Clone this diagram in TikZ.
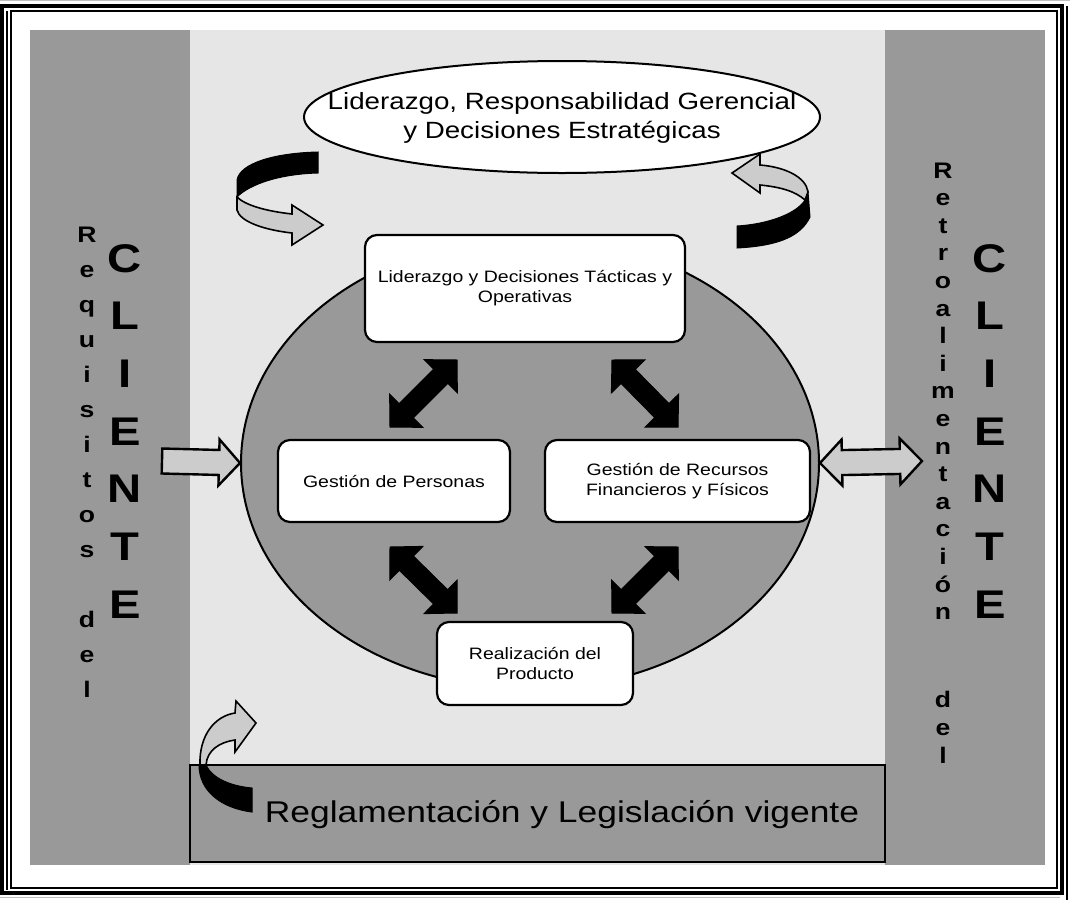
\documentclass[tikz,border=0pt]{standalone}
\usepackage{fontspec}
\setmainfont{Liberation Sans}[FakeStretch=1.18]
\usetikzlibrary{calc,shapes.geometric}
\definecolor{dgray}{HTML}{999999}
\definecolor{lgray}{HTML}{E6E6E6}
\definecolor{agray}{HTML}{CCCCCC}

% single block arrow: #1 style, #2 from, #3 to, #4 shaft half width, #5 head half width, #6 head length
\newcommand\sglarrow[6]{%
  \coordinate (sa-h) at ($(#3)!#6!(#2)$);
  \draw[#1] ($(#2)!#4!90:(#3)$) -- ($(sa-h)!#4!90:(#3)$) -- ($(sa-h)!#5!90:(#3)$) -- (#3)
    -- ($(sa-h)!#5!-90:(#3)$) -- ($(sa-h)!#4!-90:(#3)$) -- ($(#2)!#4!-90:(#3)$) -- cycle;
}
% double block arrow
\newcommand\dblarrow[6]{%
  \coordinate (da-a) at ($(#2)!#6!(#3)$);
  \coordinate (da-b) at ($(#3)!#6!(#2)$);
  \draw[#1] (#2) -- ($(da-a)!#5!90:(#3)$) -- ($(da-a)!#4!90:(#3)$) -- ($(da-b)!#4!90:(#3)$)
    -- ($(da-b)!#5!90:(#3)$) -- (#3) -- ($(da-b)!#5!-90:(#3)$) -- ($(da-b)!#4!-90:(#3)$)
    -- ($(da-a)!#4!-90:(#3)$) -- ($(da-a)!#5!-90:(#3)$) -- cycle;
}

\begin{document}
\begin{tikzpicture}[x=1pt,y=-1pt,
  box/.style={draw, line width=2.2pt, fill=white, rounded corners=12pt, align=center,
    font=\fontsize{16.5}{20}\selectfont, inner sep=2pt},
  blackarrow/.style={fill=black, draw=black, line width=1pt, line join=miter},
  lightarrow/.style={fill=agray, draw=black, line width=2.4pt, line join=miter},
  ribbonback/.style={fill=black, draw=black, line width=1pt},
  ribbonfront/.style={fill=agray, draw=black, line width=1.6pt, line join=miter},
  smallL/.style={anchor=base, inner sep=0pt, font=\fontsize{22.5}{22.5}\selectfont\bfseries},
  bigL/.style={anchor=base, inner sep=0pt, font=\fontsize{40}{40}\selectfont\bfseries},
]
\useasboundingbox (0,0) rectangle (1070,900);
\fill[white] (0,0) rectangle (1070,900);

% frame
\draw[line width=4pt] (2,6) rectangle (1061.5,893);
\draw[line width=2pt] (10.5,11) rectangle (1057,888);
\draw[line width=2pt] (7,11) -- (7,890);
\draw[line width=2.5pt] (1067,6) -- (1067,900);
\draw[gray!50, line width=1pt] (0,0.5) -- (1070,0.5);
\draw[gray!50, line width=1pt] (0,897) -- (1060,897);

% panels
\fill[lgray] (30,30) rectangle (1045,865);
\fill[dgray] (30,30) rectangle (190,865);
\fill[dgray] (885,30) rectangle (1045,865);

% big ellipse
\node[ellipse, draw, line width=2pt, fill=dgray, minimum width=578pt, minimum height=452pt, inner sep=0pt] (circ) at (530,463) {};

% boxes
\node[box, minimum width=320pt, minimum height=107pt] (tac) at (525,288.5) {Liderazgo y Decisiones Tácticas y\\Operativas};
\node[box, minimum width=232pt, minimum height=82pt] (per) at (394,481) {Gestión de Personas};
\node[box, minimum width=265pt, minimum height=82pt] (rec) at (677.5,481) {Gestión de Recursos\\Financieros y Físicos};
\node[box, minimum width=196pt, minimum height=83pt] (pro) at (535,663.5) {Realización del\\Producto};

% black double arrows
\coordinate (ula) at (457,360); \coordinate (ulb) at (390,427);
\coordinate (ura) at (612,360); \coordinate (urb) at (678,427);
\coordinate (lla) at (390,547); \coordinate (llb) at (457,613);
\coordinate (lra) at (678,547); \coordinate (lrb) at (612,613);
\dblarrow{blackarrow}{ula}{ulb}{10pt}{23.5pt}{23pt}
\dblarrow{blackarrow}{ura}{urb}{10pt}{23.5pt}{23pt}
\dblarrow{blackarrow}{lla}{llb}{10pt}{23.5pt}{23pt}
\dblarrow{blackarrow}{lra}{lrb}{10pt}{23.5pt}{23pt}

% side arrows
\coordinate (lin) at (162,461);
\coordinate (rout) at (922,461);
\sglarrow{lightarrow}{lin}{circ.west}{12.5pt}{23pt}{21pt}
\dblarrow{lightarrow}{circ.east}{rout}{12.5pt}{23pt}{22pt}

% top ellipse
\node[ellipse, draw, line width=2pt, fill=white, minimum width=516pt, minimum height=112pt, inner sep=0pt] (lid) at (562,117) {};
\node[align=center, font=\fontsize{23.5}{29}\selectfont, inner sep=0pt] (lidtxt) at (562,118) {Liderazgo, Responsabilidad Gerencial\\y Decisiones Estratégicas};

% curved arrow top-left
\draw[ribbonback] (318,152) .. controls (275,153) and (240,163) .. (237,180) -- (237,197) .. controls (250,184) and (280,174) .. (318,173) -- cycle;
\draw[ribbonfront] (237,197) .. controls (245,205) and (265,211) .. (292,214) -- (292,205) -- (323,225) -- (292,245) -- (292,233) .. controls (265,230) and (240,222) .. (237,210) -- cycle;

% curved arrow top-right
\draw[ribbonfront] (732,173) -- (760,154) -- (760,165) .. controls (785,167) and (806,177) .. (808,192) -- (805,200) .. controls (795,191) and (780,187) .. (760,185) -- (760,193) -- cycle;
\draw[ribbonback] (808,192) -- (810,217) .. controls (800,238) and (775,246) .. (737,248) -- (737,226) .. controls (770,224) and (797,213) .. (805,200) -- cycle;

% bottom rectangle
\node[draw, line width=2pt, fill=dgray, minimum width=695pt, minimum height=97pt, inner sep=0pt] (reg) at (537.5,813.5) {};
\node[font=\fontsize{30}{30}\selectfont, inner sep=0pt] (regtxt) at (562,815) {Reglamentación y Legislación vigente};

% curved arrow bottom-left
\draw[ribbonfront] (200,765) .. controls (199,735) and (215,716) .. (235,713) -- (236,701) -- (256,723) -- (235,752) -- (235,740) .. controls (220,742) and (207,750) .. (206,765) -- cycle;
\draw[ribbonback] (199,765) .. controls (199,790) and (220,808) .. (252,812) -- (252,788) .. controls (230,786) and (212,778) .. (206,765) -- cycle;

% left column texts
\foreach \ch [count=\i from 0] in {R,e,q,u,i,s,i,t,o,s}
  \node[smallL] (lq\i) at (87,242+35*\i) {\ch};
\node[smallL] (ld1) at (87,627) {d};
\node[smallL] (ld2) at (87,662) {e};
\node[smallL] (ld3) at (87,697) {l};
\foreach \ch [count=\i from 0] in {C,L,I,E,N,T,E}
  \node[bigL] (lc\i) at (125,272+57.7*\i) {\ch};

% right column texts
\foreach \ch [count=\i from 0] in {R,e,t,r,o,a,l,i,m,e,n,t,a,c,i,ó,n}
  \node[smallL] (rr\i) at (943,178+27.6*\i) {\ch};
\node[smallL] (rd1) at (943,707) {d};
\node[smallL] (rd2) at (943,735) {e};
\node[smallL] (rd3) at (943,763) {l};
\foreach \ch [count=\i from 0] in {C,L,I,E,N,T,E}
  \node[bigL] (rc\i) at (990,272+57.7*\i) {\ch};
\end{tikzpicture}
\end{document}
